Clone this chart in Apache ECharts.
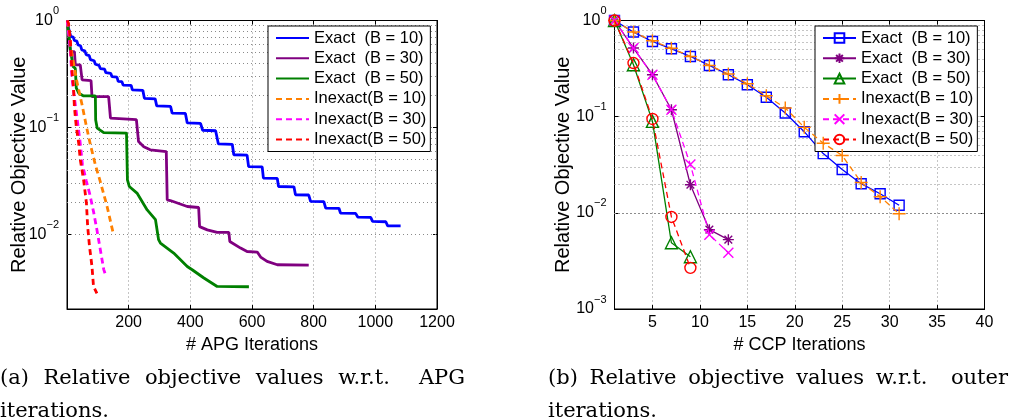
<!DOCTYPE html>
<html><head><meta charset="utf-8">
<script src="https://cdn.jsdelivr.net/npm/echarts@6/dist/echarts.min.js"></script>
<style>html,body{margin:0;padding:0;background:#fff}#c{width:1009px;height:419px}</style>
</head><body><div id="c"></div>
<script>
// ---------- DATA (a): APG iterations ----------
const apgExact10 = [[1,1],[5,0.85],[12,0.71],[20,0.70],[24,0.65],[32,0.64],[36,0.59],[44,0.58],[48,0.53],[58,0.52],[62,0.48],[72,0.47],[76,0.43],[88,0.42],[92,0.39],[104,0.38],[108,0.355],[122,0.35],[126,0.325],[142,0.32],[146,0.298],[162,0.295],[166,0.27],[178,0.268],[182,0.249],[208,0.247],[212,0.224],[246,0.222],[251,0.187],[286,0.185],[291,0.159],[336,0.157],[341,0.136],[384,0.135],[390,0.11],[433,0.109],[440,0.094],[482,0.093],[491,0.070],[536,0.0695],[541,0.0555],[584,0.055],[589,0.043],[633,0.0428],[637,0.0335],[682,0.0333],[686,0.028],[736,0.0278],[741,0.0234],[784,0.0233],[790,0.0203],[833,0.0202],[839,0.0176],[882,0.0175],[887,0.0158],[936,0.0157],[943,0.0145],[985,0.0144],[991,0.0132],[1034,0.0131],[1040,0.012],[1082,0.012]];
const apgExact30 = [[1,1],[6,0.75],[11,0.511],[24,0.511],[27,0.384],[43,0.384],[49,0.278],[78,0.274],[81,0.194],[135,0.194],[141,0.122],[147,0.118],[225,0.118],[232,0.0737],[249,0.066],[270,0.0617],[322,0.0594],[325,0.021],[335,0.0207],[390,0.0182],[427,0.0178],[430,0.0118],[455,0.0110],[487,0.0104],[525,0.0104],[528,0.00857],[563,0.00743],[584,0.0069],[617,0.00682],[628,0.00612],[649,0.00557],[682,0.00519],[784,0.00515]];
const apgExact50 = [[1,1],[5,0.76],[11,0.53],[20,0.37],[27,0.357],[30,0.234],[38,0.209],[54,0.197],[92,0.197],[93,0.1175],[98,0.0984],[119,0.0894],[193,0.0883],[196,0.0323],[202,0.028],[227,0.0243],[260,0.0169],[287,0.0137],[292,0.0136],[297,0.0089],[303,0.00828],[346,0.00667],[390,0.0050],[406,0.00466],[444,0.0039],[487,0.00325],[590,0.00323]];
const apgInexact10 = [[1,1],[11,0.59],[32,0.268],[49,0.162],[63,0.102],[76,0.0686],[92,0.0446],[108,0.0311],[130,0.0182],[151,0.0099]];
const apgInexact30 = [[1,1],[11,0.53],[16,0.29],[24,0.19],[32,0.126],[42,0.075],[50,0.045],[62,0.032],[73,0.0243],[86,0.0163],[97,0.011],[108,0.0072],[119,0.0047],[127,0.004]];
const apgInexact50 = [[1,1],[5,0.94],[11,0.66],[13,0.49],[16,0.345],[21,0.24],[24,0.156],[30,0.102],[38,0.071],[43,0.05],[54,0.032],[63,0.0196],[67,0.0118],[73,0.0077],[81,0.005],[86,0.00325],[97,0.0028]];

// ---------- DATA (b): CCP iterations ----------
const ccpIterB10 = [1,3,5,7,9,11,13,15,17,19,21,23,25,27,29,31];
const ccpIterB30 = [1,3,5,7,9,11,13];
const ccpIterB50 = [1,3,5,7,9];
const ccpExact10   = [1,0.758,0.605,0.508,0.423,0.341,0.273,0.215,0.159,0.109,0.0698,0.0413,0.0282,0.0201,0.0158,0.0120];
const ccpInexact10 = [1,0.758,0.615,0.515,0.423,0.341,0.278,0.22,0.165,0.123,0.0774,0.053,0.0395,0.0207,0.0147,0.0098];
const ccpExact30   = [1,0.517,0.273,0.118,0.0196,0.00668,0.00526];
const ccpInexact30 = [1,0.517,0.273,0.118,0.0318,0.00593,0.00385];
const ccpExact50   = [1,0.347,0.0894,0.00488,0.00349];
const ccpInexact50 = [1,0.361,0.0946,0.00906,0.00268];

// ---------- TICKS / TEXT ----------
const minorTicksLeft  = [0.003,0.004,0.005,0.006,0.007,0.008,0.009,0.02,0.03,0.04,0.05,0.06,0.07,0.08,0.09,0.2,0.3,0.4,0.5,0.6,0.7,0.8,0.9];
const minorTicksRight = [0.002,0.003,0.004,0.005,0.006,0.007,0.008,0.009,0.02,0.03,0.04,0.05,0.06,0.07,0.08,0.09,0.2,0.3,0.4,0.5,0.6,0.7,0.8,0.9];
const seriesNames = ['Exact  (B = 10)','Exact  (B = 30)','Exact  (B = 50)','Inexact(B = 10)','Inexact(B = 30)','Inexact(B = 50)'];
const captionAWords = ['(a)','Relative','objective','values','w.r.t.','APG'];
const captionBWords = ['(b)','Relative','objective','values','w.r.t.','outer'];
const captionLine2 = 'iterations.';

const FONT = 'Liberation Sans';
const SERIF = '21px "DejaVu Serif"';
const GRID_DOT = {color:'#8a8a8a', width:1, type:[1,3]};
const COLORS = ['#0000ff','#800080','#008000','#ff8000','#ff00ff','#ff0000'];

function zip(xs, ys){ return xs.map((x,i)=>[x, ys[i]]); }

function logLabel(v){
  const l = Math.log10(v); const e = Math.round(l);
  if (Math.abs(l-e) > 1e-6) return '';
  return '{b|10}{s|' + (e < 0 ? '\u2212' + (-e) : String(e)) + '}';
}
const logRich = {
  b:{fontFamily:FONT,fontSize:16,color:'#000',verticalAlign:'bottom',lineHeight:16},
  s:{fontFamily:FONT,fontSize:11,color:'#000',verticalAlign:'bottom',lineHeight:11,padding:[0,0,12,0]}
};

function xAxisMain(grid, min, max, opts){
  return Object.assign({
    type:'value', gridIndex:grid, min:min, max:max, position:'bottom',
    axisLine:{show:true,onZero:false,lineStyle:{color:'#000',width:1}},
    axisTick:{show:true,inside:true,length:4,lineStyle:{color:'#000'}},
    splitLine:{show:true,lineStyle:GRID_DOT},
    nameLocation:'middle', nameGap:20,
    nameTextStyle:{color:'#000',fontFamily:FONT,fontSize:18}
  }, opts);
}
function xAxisTop(grid, min, max, opts){
  return Object.assign({
    type:'value', gridIndex:grid, min:min, max:max, position:'top',
    axisLine:{show:true,onZero:false,lineStyle:{color:'#000',width:1}},
    axisTick:{show:true,inside:true,length:4,lineStyle:{color:'#000'}},
    axisLabel:{show:false}, splitLine:{show:false}
  }, opts);
}
function yAxisMain(grid, min, nameGap){
  return {
    type:'log', logBase:10, gridIndex:grid, min:min, max:1, position:'left',
    axisLine:{show:true,onZero:false,lineStyle:{color:'#000',width:1}},
    axisTick:{show:true,inside:true,length:4,lineStyle:{color:'#000'}},
    axisLabel:{formatter:logLabel, rich:logRich, margin:8},
    splitLine:{show:true,lineStyle:GRID_DOT},
    name:'Relative Objective Value', nameLocation:'middle', nameGap:nameGap, nameMoveOverlap:false,
    nameTextStyle:{color:'#000',fontFamily:FONT,fontSize:20}
  };
}
function yAxisRight(grid, min){
  return {
    type:'log', logBase:10, gridIndex:grid, min:min, max:1, position:'right',
    axisLine:{show:true,onZero:false,lineStyle:{color:'#000',width:1}},
    axisTick:{show:true,inside:true,length:4,lineStyle:{color:'#000'}},
    axisLabel:{show:false}, splitLine:{show:false}
  };
}
function minorGrid(xi, yi, vals){
  return {
    type:'line', name:'_minor'+xi, xAxisIndex:xi, yAxisIndex:yi, data:[], z:1, silent:true,
    markLine:{silent:true, symbol:['none','none'], z:1, label:{show:false},
      lineStyle:GRID_DOT, emphasis:{disabled:true},
      data: vals.map(v=>({yAxis:v}))}
  };
}

const pathPlus = 'path://M0,-10L0,10M-10,0L10,0';
const pathX = 'path://M-10,-10L10,10M-10,10L10,-10';
const pathStar = 'path://M0,-10L0,10M-10,0L10,0M-7,-7L7,7M-7,7L7,-7';

const leftData = [apgExact10, apgExact30, apgExact50, apgInexact10, apgInexact30, apgInexact50];
const leftSeries = leftData.map((d,i)=>({
  name: seriesNames[i], type:'line', xAxisIndex:0, yAxisIndex:0, data:d,
  symbol:'none', showSymbol:false, z: 2+i,
  lineStyle:{color:COLORS[i], width:2.8, type: i<3 ? 'solid' : [6,4]},
  itemStyle:{color:COLORS[i]}
}));

const rightDefs = [
  [ccpIterB10, ccpExact10, 'rect', 10],
  [ccpIterB30, ccpExact30, pathStar, 11],
  [ccpIterB50, ccpExact50, 'triangle', 12],
  [ccpIterB10, ccpInexact10, pathPlus, 13],
  [ccpIterB30, ccpInexact30, pathX, 10],
  [ccpIterB50, ccpInexact50, 'circle', 11]
];
const rightSeries = rightDefs.map((d,i)=>({
  name: seriesNames[i] + '\u200b', type:'line', xAxisIndex:2, yAxisIndex:2, data: zip(d[0], d[1]),
  symbol:d[2], symbolSize:d[3], showSymbol:true, z:2+i,
  lineStyle:{color:COLORS[i], width:1.3, type: i<3 ? 'solid' : [6,4]},
  itemStyle:{color:'rgba(0,0,0,0)', borderColor:COLORS[i], borderWidth:1.4}
}));

const legendBase = {
  orient:'vertical', itemWidth:33, itemHeight:12, itemGap:2.3, padding:[3,4,3,7],
  borderColor:'#000', borderWidth:1, backgroundColor:'#fff', selectedMode:false,
  textStyle:{fontFamily:FONT,fontSize:16.5,color:'#000',lineHeight:18}
};

// Justified caption line: first word starts at x0, last word ends at x1, last gap twice as wide
const measureCtx = document.createElement('canvas').getContext('2d');
measureCtx.font = SERIF;
function justify(words, x0, x1, y){
  const w = words.map(t=>measureCtx.measureText(t).width);
  const total = w.reduce((a,b)=>a+b,0);
  const n = words.length;
  const g = (x1 - x0 - total) / (n - 2 + 2);
  const out = []; let x = x0;
  words.forEach((t,i)=>{
    out.push({type:'text', x:x, y:y, style:{text:t, font:SERIF, fill:'#000', textVerticalAlign:'middle'}});
    x += w[i] + (i === n-2 ? 2*g : g);
  });
  return out;
}
const captionText = [].concat(
  justify(captionAWords, 0, 465, 379),
  justify(captionBWords, 548, 1008, 379),
  [{type:'text', x:0, y:412, style:{text:captionLine2, font:SERIF, fill:'#000', textVerticalAlign:'middle'}},
   {type:'text', x:548, y:412, style:{text:captionLine2, font:SERIF, fill:'#000', textVerticalAlign:'middle'}}]
);

const chart = echarts.init(document.getElementById('c'), null, {renderer:'canvas'});
chart.setOption({
  animation:false,
  backgroundColor:'#fff',
  grid:[
    {left:67, top:20.5, width:370, height:288.5, show:true, borderColor:'#000', borderWidth:1, containLabel:false},
    {left:614.5, top:20.5, width:370, height:288.5, show:true, borderColor:'#000', borderWidth:1, containLabel:false}
  ],
  xAxis:[
    xAxisMain(0, 0, 1200, {interval:200, name:'# APG Iterations', axisLabel:{color:'#000',fontFamily:FONT,fontSize:16,margin:6, formatter:v=> v===0 ? '' : String(v)}}),
    xAxisTop(0, 0, 1200, {interval:200}),
    xAxisMain(1, 1, 40, {splitNumber:8, name:'# CCP Iterations', axisLabel:{color:'#000',fontFamily:FONT,fontSize:16,margin:6, formatter:v=> (v%5!==0) ? '' : String(v)}}),
    xAxisTop(1, 1, 40, {splitNumber:8})
  ],
  yAxis:[
    yAxisMain(0, 0.002, 38), yAxisRight(0, 0.002),
    yAxisMain(1, 0.001, 41), yAxisRight(1, 0.001)
  ],
  legend:[
    Object.assign({}, legendBase, {left:268, top:26, data: seriesNames, itemStyle:{opacity:0}}),
    Object.assign({}, legendBase, {left:815, top:26, data: seriesNames.map(n=>n+'\u200b')})
  ],
  graphic: captionText,
  series:[minorGrid(0,0,minorTicksLeft), minorGrid(2,2,minorTicksRight)].concat(leftSeries, rightSeries)
});
</script></body></html>
